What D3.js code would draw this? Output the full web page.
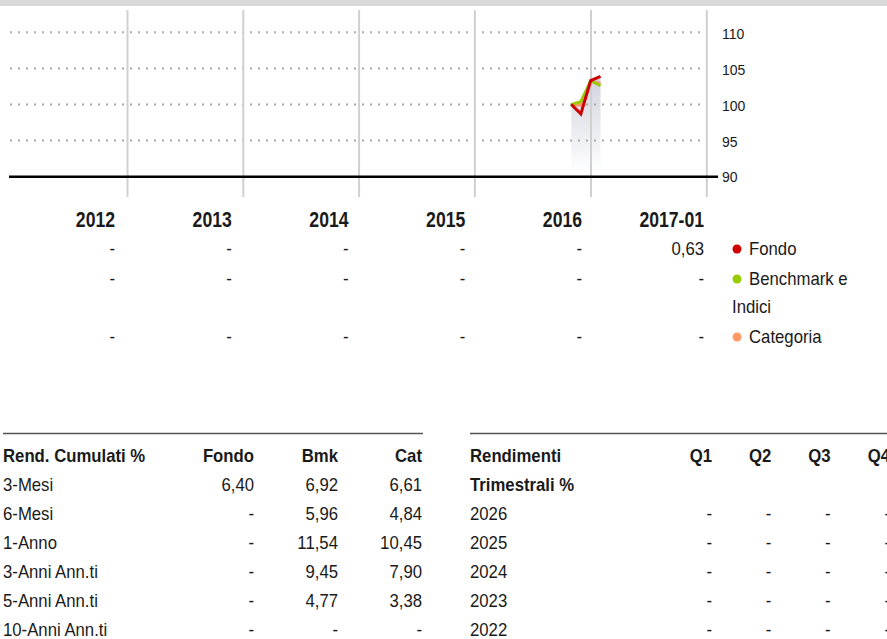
<!DOCTYPE html>
<html>
<head>
<meta charset="utf-8">
<script src="https://cdn.jsdelivr.net/npm/d3@7"></script>
<style>
  body { margin: 0; background: #fff; }
  svg { display: block; }
  text { fill: #1a1a1a; font-family: 'Liberation Sans', Arial, sans-serif; }
</style>
</head>
<body>
<div id="main"></div>
<script>
// chart data
const years = ["2012", "2013", "2014", "2015", "2016", "2017-01"];
const annualFondo = [null, null, null, null, null, 0.63];
const annualBmk = [null, null, null, null, null, null];
const annualCat = [null, null, null, null, null, null];

const dates = ["2016-10-31", "2016-11-30", "2016-12-31", "2017-01-31"];
const fondo = [100, 98.7, 103.3, 103.9];
const bmk = [100, 100.4, 103.3, 102.6];
const cat = [100, 99.9, 103.2, 102.9];
const yTicks = [90, 95, 100, 105, 110];

const cumHeader = ["Rend. Cumulati %", "Fondo", "Bmk", "Cat"];
const cumLabels = ["3-Mesi", "6-Mesi", "1-Anno", "3-Anni Ann.ti", "5-Anni Ann.ti", "10-Anni Ann.ti"];
const cumFondo = [6.40, null, null, null, null, null];
const cumBmk = [6.92, 5.96, 11.54, 9.45, 4.77, null];
const cumCat = [6.61, 4.84, 10.45, 7.90, 3.38, null];

const qHeader = ["Q1", "Q2", "Q3", "Q4"];
const qYears = ["2026", "2025", "2024", "2023", "2022"];
const qValues = [
  [null, null, null, null],
  [null, null, null, null],
  [null, null, null, null],
  [null, null, null, null],
  [null, null, null, null]
];

const w = 887, h = 639;
const colors = {fondo: "#cc0000", bmk: "#99cc00", cat: "#ff9966"};
const SX = 0.93;      // condensed look for table text
const SX_YEAR = 0.8;  // condensed look for year headers

const it = d3.formatLocale({decimal: ",", thousands: ".", grouping: [3], currency: ["€", ""]});
const fmt = v => v == null ? "-" : it.format(".2f")(v);
const parse = d3.timeParse("%Y-%m-%d");

const svg = d3.select("#main").append("svg").attr("width", w).attr("height", h);

// text helper: squeezes text horizontally around its anchor point
function txt(sel, x, y, sx) {
  return sel.attr("transform", (d, i) =>
      "translate(" + (typeof x === "function" ? x(d, i) : x) + "," +
      (typeof y === "function" ? y(d, i) : y) + ") scale(" + sx + ",1)");
}

// top band
svg.append("rect").attr("x", 0).attr("y", 0).attr("width", w).attr("height", 6).style("fill", "#d9d9d9");

// scales
const xScale = d3.scaleTime()
    .domain([new Date(2012, 0, 1), new Date(2018, 0, 1)])
    .range([11.4, 706.8]);
const yScale = d3.scaleLinear().domain([90, 110]).range([176.7, 32.3]);

// shading under the lines
const defs = svg.append("defs");
const grad = defs.append("linearGradient").attr("id", "shade")
    .attr("x1", 0).attr("y1", 0).attr("x2", 0).attr("y2", 1);
grad.append("stop").attr("offset", "0%").attr("stop-color", "#d0d3de");
grad.append("stop").attr("offset", "100%").attr("stop-color", "#ffffff");

const pts = (vals) => dates.map((d, i) => ({date: parse(d), v: vals[i]}));

const area = d3.area()
    .x(d => xScale(d.date))
    .y0(yScale(90.5))
    .y1(d => yScale(d.v));
svg.append("path").datum(pts(bmk).map((d, i) => ({date: d.date, v: Math.max(d.v, fondo[i])})))
    .attr("d", area).style("fill", "url(#shade)");

// horizontal dotted gridlines
svg.append("g").selectAll("line")
    .data(yTicks.filter(t => t > 90))
    .enter()
    .append("line")
    .attr("x1", 10).attr("x2", 705)
    .attr("y1", d => yScale(d)).attr("y2", d => yScale(d))
    .style("stroke", "#a8a8a8").style("stroke-width", 2)
    .style("stroke-dasharray", "2,6");

// vertical year gridlines
const yearEnds = d3.range(2013, 2019).map(y => new Date(y, 0, 1));
svg.append("g").selectAll("line")
    .data(yearEnds)
    .enter()
    .append("line")
    .attr("x1", d => xScale(d)).attr("x2", d => xScale(d))
    .attr("y1", 10).attr("y2", 197)
    .style("stroke", "#d0d0d0").style("stroke-width", 2);

// baseline
svg.append("line")
    .attr("x1", 9).attr("x2", 718)
    .attr("y1", yScale(90)).attr("y2", yScale(90))
    .style("stroke", "#000").style("stroke-width", 2.5);

// y axis labels
const yAxis = d3.axisRight(yScale).tickValues(yTicks).tickSize(0).tickPadding(0);
const yg = svg.append("g").attr("transform", "translate(722,0)").call(yAxis);
yg.select(".domain").remove();
yg.selectAll("text")
    .style("font-family", "'Liberation Sans', Arial, sans-serif").style("font-size", "14px").style("fill", "#1a1a1a")
    .attr("dy", d => d === 90 ? "0.32em" : "0.45em");

// lines
const line = d3.line().x(d => xScale(d.date)).y(d => yScale(d.v));
[["cat", cat], ["bmk", bmk], ["fondo", fondo]].forEach(([k, vals]) => {
  svg.append("path").datum(pts(vals))
      .attr("d", line)
      .style("fill", "none")
      .style("stroke", colors[k])
      .style("stroke-width", 3)
      .style("stroke-linejoin", "miter");
});

// annual table under chart
const colX = d3.scaleLinear().domain([0, 4]).range([115, 582]);
const colRight = (d, i) => i < 5 ? colX(i) : 704;

txt(svg.append("g").selectAll("text")
    .data(years)
    .enter()
    .append("text"), colRight, 226.5, SX_YEAR)
    .attr("text-anchor", "end")
    .style("font-weight", "bold").style("font-size", "22px")
    .text(d => d);

const annualRows = [
  {vals: annualFondo, y: 255, label: "Fondo", color: colors.fondo},
  {vals: annualBmk, y: 285, label: "Benchmark e", color: colors.bmk},
  {vals: annualCat, y: 343, label: "Categoria", color: colors.cat}
];
annualRows.forEach(r => {
  txt(svg.append("g").selectAll("text")
      .data(r.vals)
      .enter()
      .append("text"), colRight, r.y, SX)
      .attr("text-anchor", "end")
      .style("font-size", "18px")
      .text(d => fmt(d));
  svg.append("circle").attr("cx", 737).attr("cy", r.y - 6).attr("r", 4.5).style("fill", r.color);
  txt(svg.append("text"), 749, r.y, SX)
      .style("font-size", "18px")
      .text(r.label);
});
txt(svg.append("text"), 732, 313, SX)
    .style("font-size", "18px")
    .text("Indici");

// bottom tables
const rowY = d3.scaleLinear().domain([0, 6]).range([462, 636]);

// cumulative returns
svg.append("line").attr("x1", 3).attr("x2", 423).attr("y1", 433.5).attr("y2", 433.5)
    .style("stroke", "#555").style("stroke-width", 1.5);
const cumX = [3, 254, 338, 422];
txt(svg.append("g").selectAll("text")
    .data(cumHeader)
    .enter()
    .append("text"), (d, i) => cumX[i], rowY(0), SX)
    .attr("text-anchor", (d, i) => i === 0 ? "start" : "end")
    .style("font-weight", "bold").style("font-size", "18px")
    .text(d => d);
cumLabels.forEach((lab, r) => {
  const row = [lab, fmt(cumFondo[r]), fmt(cumBmk[r]), fmt(cumCat[r])];
  txt(svg.append("g").selectAll("text")
      .data(row)
      .enter()
      .append("text"), (d, i) => cumX[i], rowY(r + 1), SX)
      .attr("text-anchor", (d, i) => i === 0 ? "start" : "end")
      .style("font-size", "18px")
      .text(d => d);
});

// quarterly returns
svg.append("line").attr("x1", 470).attr("x2", w).attr("y1", 433.5).attr("y2", 433.5)
    .style("stroke", "#555").style("stroke-width", 1.5);
const qX = d3.scaleLinear().domain([0, 3]).range([712, 890]);
txt(svg.append("text"), 470, rowY(0), SX)
    .style("font-weight", "bold").style("font-size", "18px")
    .text("Rendimenti");
txt(svg.append("text"), 470, rowY(1), SX)
    .style("font-weight", "bold").style("font-size", "18px")
    .text("Trimestrali %");
txt(svg.append("g").selectAll("text")
    .data(qHeader)
    .enter()
    .append("text"), (d, i) => qX(i), rowY(0), SX)
    .attr("text-anchor", "end")
    .style("font-weight", "bold").style("font-size", "18px")
    .text(d => d);
qYears.forEach((yr, r) => {
  txt(svg.append("text"), 470, rowY(r + 2), SX)
      .style("font-size", "18px")
      .text(yr);
  txt(svg.append("g").selectAll("text")
      .data(qValues[r])
      .enter()
      .append("text"), (d, i) => qX(i), rowY(r + 2), SX)
      .attr("text-anchor", "end")
      .style("font-size", "18px")
      .text(d => fmt(d));
});
</script>
</body>
</html>
